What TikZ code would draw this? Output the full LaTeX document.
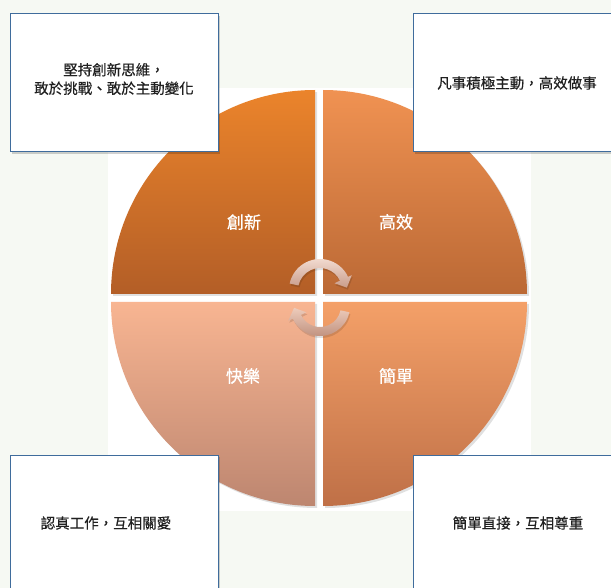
\documentclass[tikz,border=0pt]{standalone}
\usepackage{fontspec}
\newfontfamily\cjk[FakeBold=0.4]{Noto Sans CJK TC}
\newfontfamily\cjklab[FakeBold=0.8]{Noto Sans CJK TC}
\definecolor{bg}{HTML}{F6F9F3}
\definecolor{txt}{HTML}{202020}
\definecolor{boxblue}{HTML}{3F6C9C}
\definecolor{tlTop}{HTML}{EB842B}
\definecolor{tlBot}{HTML}{B35E27}
\definecolor{trTop}{HTML}{F09252}
\definecolor{trBot}{HTML}{BB6935}
\definecolor{blTop}{HTML}{F8B592}
\definecolor{blBot}{HTML}{BD8670}
\definecolor{brTop}{HTML}{F4A068}
\definecolor{brBot}{HTML}{BF7047}
\definecolor{arLight}{HTML}{F5E0D6}
\definecolor{arDark}{HTML}{C99C8A}
\definecolor{arLight2}{HTML}{EDCBBB}
\definecolor{arDark2}{HTML}{BD8E7B}
\begin{document}
\begin{tikzpicture}[x=1pt,y=-1pt,
  boxtext/.style={font=\cjk\fontsize{14.5}{18.5}\selectfont, text=txt, align=center, inner sep=0pt},
  quadlabel/.style={font=\cjklab\fontsize{17}{20}\selectfont, text=white, inner sep=0pt},
  infobox/.style={draw=boxblue, line width=1pt, fill=white},
  boxshadow/.style={fill=black, opacity=0.18},
  quadshadow/.style={fill=black, opacity=0.12},
]
\useasboundingbox (0,0) rectangle (611,588);
\fill[bg] (0,0) rectangle (611,588);
\fill[white] (108,88) rectangle (531,511);

% quadrant shadows
\fill[quadshadow] (317,296) -- (113,296) arc[start angle=180,end angle=270,radius=204] -- cycle;
\fill[quadshadow] (325,296) -- (325,92) arc[start angle=270,end angle=360,radius=204] -- cycle;
\fill[quadshadow] (325,304) -- (529,304) arc[start angle=0,end angle=90,radius=204] -- cycle;
\fill[quadshadow] (317,304) -- (317,508) arc[start angle=90,end angle=180,radius=204] -- cycle;

% quadrants
\shade[top color=tlTop, bottom color=tlBot] (315,294) -- (111,294) arc[start angle=180,end angle=270,radius=204] -- cycle;
\shade[top color=trTop, bottom color=trBot] (323,294) -- (323,90) arc[start angle=270,end angle=360,radius=204] -- cycle;
\shade[top color=brTop, bottom color=brBot] (323,302) -- (527,302) arc[start angle=0,end angle=90,radius=204] -- cycle;
\shade[top color=blTop, bottom color=blBot] (315,302) -- (315,506) arc[start angle=90,end angle=180,radius=204] -- cycle;

% circular arrows
\coordinate (uc) at (320,290);
\coordinate (lc) at (320,306);
\fill[black, opacity=0.12]
  ([shift={(321,292)}]192:31) arc[start angle=192,end angle=335,radius=31]
  -- ([shift={(321,292)}]335:35) -- ([shift={(321,292)}]355:27) -- ([shift={(321,292)}]335:16)
  -- ([shift={(321,292)}]335:22) arc[start angle=335,end angle=192,radius=22] -- cycle;
\fill[black, opacity=0.12]
  ([shift={(321,308)}]12:30) arc[start angle=12,end angle=155,radius=30]
  -- ([shift={(321,308)}]155:35) -- ([shift={(321,308)}]176:26) -- ([shift={(321,308)}]155:15)
  -- ([shift={(321,308)}]155:21) arc[start angle=155,end angle=12,radius=21] -- cycle;
\shade[top color=arLight, bottom color=arDark]
  ([shift={(uc)}]192:31) arc[start angle=192,end angle=335,radius=31]
  -- ([shift={(uc)}]335:35) -- ([shift={(uc)}]355:27) -- ([shift={(uc)}]335:16)
  -- ([shift={(uc)}]335:22) arc[start angle=335,end angle=192,radius=22] -- cycle;
\shade[top color=arLight2, bottom color=arDark2]
  ([shift={(lc)}]12:30) arc[start angle=12,end angle=155,radius=30]
  -- ([shift={(lc)}]155:35) -- ([shift={(lc)}]176:26) -- ([shift={(lc)}]155:15)
  -- ([shift={(lc)}]155:21) arc[start angle=155,end angle=12,radius=21] -- cycle;

% quadrant labels
\node[quadlabel] (cx) at (244,222) {創新};
\node[quadlabel] (gx) at (396,222) {高效};
\node[quadlabel] (kl) at (243,376) {快樂};
\node[quadlabel] (jd) at (396,376) {簡單};

% info boxes
\fill[boxshadow] (12,16) rectangle (220,154);
\fill[boxshadow] (415,16) rectangle (615,154);
\fill[boxshadow] (12,457) rectangle (220,592);
\fill[boxshadow] (415,457) rectangle (615,592);
\draw[infobox] (10,14) rectangle (218,152);
\draw[infobox] (413,14) rectangle (614,152);
\draw[infobox] (10,455) rectangle (218,592);
\draw[infobox] (413,455) rectangle (614,592);

\node[boxtext] (t1) at (114,79) {堅持創新思維，\\敢於挑戰、敢於主動變化};
\node[boxtext] (t2) at (517,83) {凡事積極主動，高效做事};
\node[boxtext] (t3) at (106,523) {認真工作，互相關愛};
\node[boxtext] (t4) at (518,523) {簡單直接，互相尊重};
\end{tikzpicture}
\end{document}
